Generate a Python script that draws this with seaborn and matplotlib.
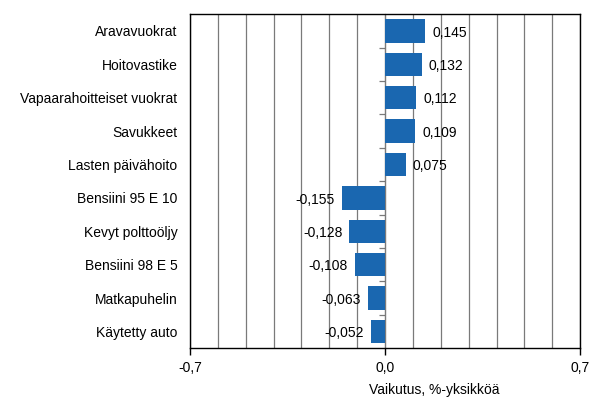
import matplotlib
matplotlib.use('Agg')
import matplotlib.pyplot as plt
import seaborn as sns
import pandas as pd
from matplotlib.ticker import MultipleLocator, FixedLocator

# tiedot
categories = ['Aravavuokrat', 'Hoitovastike', 'Vapaarahoitteiset vuokrat', 'Savukkeet',
              'Lasten päivähoito', 'Bensiini 95 E 10', 'Kevyt polttoöljy', 'Bensiini 98 E 5',
              'Matkapuhelin', 'Käytetty auto']
values = [0.145, 0.132, 0.112, 0.109, 0.075, -0.155, -0.128, -0.108, -0.063, -0.052]
x_ticks = [-0.7, 0.0, 0.7]
x_ticklabels = ['-0,7', '0,0', '0,7']
xlabel = 'Vaikutus, %-yksikköä'

sns.set_style('white')
plt.rcParams['font.family'] = ['Liberation Sans', 'DejaVu Sans']
plt.rcParams['font.size'] = 10
plt.rcParams['text.color'] = 'black'
plt.rcParams['axes.labelcolor'] = 'black'
plt.rcParams['xtick.color'] = 'black'
plt.rcParams['ytick.color'] = 'black'

bar_color = '#1a67b0'
grid_color = '#7a7a7a'
fs = 10

df = pd.DataFrame({'cat': categories, 'val': values})

fig = plt.figure(figsize=(6.05, 4.16), dpi=100)
ax = fig.add_axes([0.314, 0.163, 0.645, 0.803])

sns.barplot(data=df, x='val', y='cat', orient='h', color=bar_color,
            width=0.7, saturation=1, ax=ax, zorder=3, linewidth=0)

ax.set_xlim(-0.7, 0.7)
ax.set_ylim(len(categories) - 0.5, -0.5)

# vaaka-akseli
ax.xaxis.set_major_locator(FixedLocator(x_ticks))
ax.set_xticklabels(x_ticklabels)
ax.xaxis.set_minor_locator(MultipleLocator(0.1))
ax.tick_params(axis='x', which='major', direction='out', length=5, width=1,
               color='black', labelcolor='black', bottom=True, labelsize=fs, pad=4)
ax.tick_params(axis='x', which='minor', length=0)
ax.grid(axis='x', which='both', color=grid_color, linewidth=0.9, zorder=0)
ax.set_axisbelow(True)

# pystyakseli
ax.tick_params(axis='y', length=0, labelsize=fs, labelcolor='black', pad=9)
ax.set_ylabel('')
ax.set_xlabel(xlabel, fontsize=fs, color='black')
ax.xaxis.set_label_coords(0.626, -0.105)

for s in ax.spines.values():
    s.set_color('black')
    s.set_linewidth(1)
    s.set_visible(True)

# nollaviiva ja luokkarajojen väkäset
sec = ax.secondary_yaxis(0.5)
sec.set_yticks([i + 0.5 for i in range(len(categories) - 1)])
sec.set_yticklabels([])
sec.tick_params(axis='y', direction='in', length=4, color=grid_color, width=0.9)
sec.spines['left'].set_color(grid_color)
sec.spines['left'].set_linewidth(0.9)

# arvot
for i, v in enumerate(values):
    txt = f'{v:.3f}'.replace('.', ',')
    if v >= 0:
        ax.text(v + 0.025, i + 0.05, txt, va='center', ha='left', fontsize=fs, color='black')
    else:
        ax.text(v - 0.025, i + 0.05, txt, va='center', ha='right', fontsize=fs, color='black')

fig.savefig('out.png', dpi=100)
